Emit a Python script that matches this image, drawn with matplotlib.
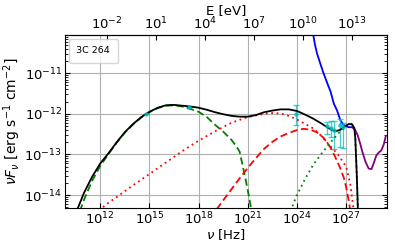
import numpy as np
import matplotlib
matplotlib.use("Agg")
import matplotlib.pyplot as plt
from matplotlib.lines import Line2D
from matplotlib.ticker import LogLocator, NullLocator, FixedLocator

# ---- data (log10 nu [Hz], log10 nuFnu [erg s^-1 cm^-2]) ----
total_lognu = [10.5, 11.0, 11.5, 12.0, 12.5, 13.0, 13.5, 14.0, 14.5, 15.0, 15.5, 16.0,
               16.5, 17.0, 17.5, 18.0, 18.5, 19.0, 19.5, 20.0, 20.5, 21.0, 21.5, 22.0,
               22.5, 23.0, 23.5, 24.0, 24.5, 25.0, 25.5, 25.85, 26.1, 26.35, 26.6,
               26.9, 27.16, 27.37, 27.5, 27.56, 27.65, 27.73]
total_logf = [-14.45, -13.95, -13.55, -13.22, -12.97, -12.70, -12.45, -12.25, -12.08,
              -11.95, -11.85, -11.79, -11.78, -11.80, -11.82, -11.85, -11.90, -11.96,
              -12.01, -12.05, -12.07, -12.07, -12.03, -11.96, -11.92, -11.89, -11.89,
              -11.93, -12.02, -12.12, -12.24, -12.33, -12.39, -12.43, -12.40, -12.32,
              -12.25, -12.26, -12.35, -12.60, -13.50, -14.50]

sync_lognu = [10.75, 11.0, 11.5, 12.0, 12.5, 13.0, 13.5, 14.0, 14.5, 15.0, 15.5, 16.0,
              16.5, 17.0, 17.5, 18.0, 18.5, 19.0, 19.5, 20.0, 20.3, 20.5, 20.7, 20.9,
              21.1, 21.25]
sync_logf = [-14.40, -14.12, -13.65, -13.28, -12.99, -12.71, -12.46, -12.26, -12.09,
             -11.96, -11.86, -11.80, -11.79, -11.82, -11.88, -11.95, -12.08, -12.27,
             -12.44, -12.64, -12.80, -12.93, -13.30, -13.68, -14.10, -14.45]

ssc1_lognu = [11.9, 12.5, 13.0, 14.0, 15.0, 16.0, 17.0, 18.0, 19.0, 20.0, 21.0, 22.0,
              22.5, 23.0, 23.5, 24.0, 24.5, 25.0, 25.5, 26.0, 26.5, 27.0, 27.25, 27.47]
ssc1_logf = [-14.38, -14.19, -14.05, -13.76, -13.48, -13.20, -12.92, -12.66, -12.43,
             -12.22, -12.08, -12.00, -11.98, -11.99, -12.05, -12.14, -12.25, -12.36,
             -12.55, -12.78, -13.00, -13.30, -13.72, -14.40]

ssc2_lognu = [19.1, 19.5, 20.0, 20.5, 21.0, 21.5, 22.0, 22.5, 23.0, 23.5, 24.0, 24.4,
              24.8, 25.2, 25.6, 26.0, 26.3, 26.6, 26.85, 27.0, 27.16, 27.28]
ssc2_logf = [-14.35, -14.13, -13.86, -13.59, -13.33, -13.09, -12.86, -12.69, -12.56,
             -12.47, -12.40, -12.37, -12.39, -12.45, -12.58, -12.80, -13.03, -13.30,
             -13.56, -13.80, -14.14, -14.45]

ext_lognu = [23.6, 24.0, 24.5, 25.0, 25.5, 26.0, 26.5, 27.0, 27.3, 27.5, 27.56, 27.65,
             27.73]
ext_logf = [-14.40, -14.00, -13.60, -13.25, -12.98, -12.73, -12.49, -12.29, -12.24,
            -12.35, -12.60, -13.50, -14.50]

sens1_lognu = [24.95, 25.1, 25.23, 25.43, 25.63, 25.94, 26.05, 26.25, 26.45, 26.65,
               26.86, 27.16, 27.37]
sens1_logf = [-9.95, -10.30, -10.52, -10.77, -11.01, -11.34, -11.45, -11.75, -11.92,
              -12.16, -12.28, -12.33, -12.33]

sens2_lognu = [27.37, 27.55, 27.7, 27.85, 28.0, 28.2, 28.38, 28.55, 28.7, 28.85, 29.0,
               29.15, 29.3, 29.42]
sens2_logf = [-12.33, -12.40, -12.52, -12.72, -12.95, -13.20, -13.35, -13.36, -13.20,
              -13.02, -12.95, -12.90, -12.75, -12.55]

data_lognu = [14.8, 17.4, 23.95, 25.85, 26.05, 26.25, 26.6, 26.8]
data_logf = [-12.01, -11.83, -12.00, -12.30, -12.35, -12.40, -12.28, -12.33]
data_logf_hi = [-12.01, -11.83, -11.78, -12.20, -12.17, -12.17, -12.12, -12.22]
data_logf_lo = [-12.01, -11.83, -12.27, -12.50, -12.58, -12.86, -12.82, -12.85]

source_name = "3C 264"
h_eV = 4.135667e-15  # eV s

def p(a):
    return 10.0 ** np.asarray(a)

FS = 9.5

fig = plt.figure(figsize=(3.95, 2.47), dpi=100)
ax = fig.add_axes([0.1646, 0.158, 0.8144, 0.700])

ax.plot(p(sens1_lognu), p(sens1_logf), color='blue', lw=1.3)
ax.plot(p(sens2_lognu), p(sens2_logf), color='purple', lw=1.3)

y = p(data_logf)
yerr = [y - p(data_logf_lo), p(data_logf_hi) - y]
ax.errorbar(p(data_lognu), y, yerr=yerr, fmt='o', ms=2.2, color='c',
            ecolor='c', elinewidth=0.9, capsize=2, alpha=0.75)

ax.plot(p(sync_lognu), p(sync_logf), color='green', ls=(0, (4, 2)), lw=1.3)
ax.plot(p(ssc1_lognu), p(ssc1_logf), color='red', ls=(0, (1, 2)), lw=1.3)
ax.plot(p(ssc2_lognu), p(ssc2_logf), color='red', ls=(0, (4, 2)), lw=1.3)
ax.plot(p(ext_lognu), p(ext_logf), color='green', ls=(0, (1, 2)), lw=1.3)

ax.plot(p(total_lognu), p(total_logf), color='black', lw=1.3)

ax.set_xscale('log')
ax.set_yscale('log')
ax.set_xlim(7e9, 3e29)
ax.set_ylim(4.8e-15, 8.7e-11)

ax.xaxis.set_major_locator(FixedLocator([1e12, 1e15, 1e18, 1e21, 1e24, 1e27]))
ax.xaxis.set_minor_locator(NullLocator())
ax.yaxis.set_major_locator(LogLocator(base=10, numticks=20))
ax.yaxis.set_minor_locator(LogLocator(base=10, subs=np.arange(2, 10), numticks=20))
ax.tick_params(which='both', direction='in', right=True, labelsize=FS)
ax.tick_params(axis='x', pad=2)
ax.tick_params(axis='y', pad=2)
ax.grid(True, which='major', color='#b0b0b0', lw=0.8)

ax.set_xlabel(r'$\nu$ [Hz]', fontsize=FS, labelpad=0)
ax.set_ylabel(r'$\nu F_\nu$ [erg s$^{-1}$ cm$^{-2}$]', fontsize=10, labelpad=1)

sec = ax.secondary_xaxis('top', functions=(lambda nu: nu * h_eV, lambda E: E / h_eV))
sec.set_xscale('log')
sec.xaxis.set_major_locator(FixedLocator([1e-2, 1e1, 1e4, 1e7, 1e10, 1e13]))
sec.xaxis.set_minor_locator(NullLocator())
sec.tick_params(direction='in', labelsize=FS, pad=2)
sec.set_xlabel('E [eV]', fontsize=FS, labelpad=1)

leg = ax.legend(handles=[Line2D([], [], linestyle='none')], labels=[source_name],
                loc='upper left', fontsize=6.8, handlelength=0, handletextpad=0,
                borderpad=0.8, borderaxespad=0.4)

fig.savefig('out.png', dpi=100)
